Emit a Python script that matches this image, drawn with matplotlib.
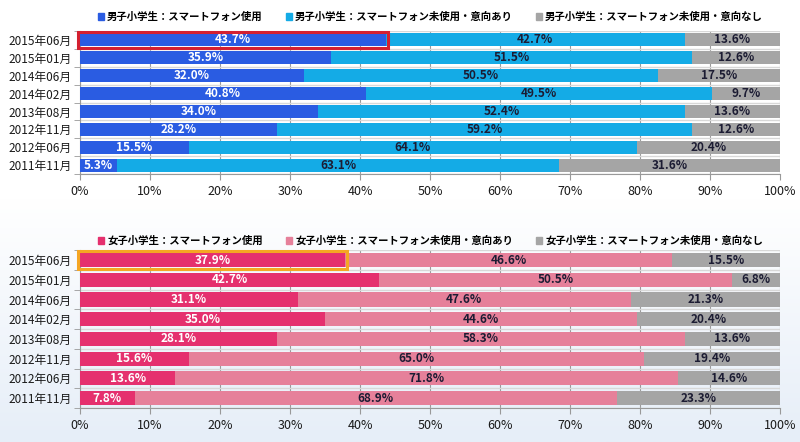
import numpy as np
import matplotlib
matplotlib.use('Agg')
import matplotlib.pyplot as plt
from matplotlib.patches import Patch, Rectangle
from matplotlib.colors import LinearSegmentedColormap

plt.rcParams['font.family'] = ['Noto Sans CJK JP', 'DejaVu Sans']

periods = ['2015年06月', '2015年01月', '2014年06月', '2014年02月',
           '2013年08月', '2012年11月', '2012年06月', '2011年11月']
pct_ticks = ['0%', '10%', '20%', '30%', '40%', '50%', '60%', '70%', '80%', '90%', '100%']

boys_names = ['男子小学生：スマートフォン使用', '男子小学生：スマートフォン未使用・意向あり',
              '男子小学生：スマートフォン未使用・意向なし']
boys_use = [43.7, 35.9, 32.0, 40.8, 34.0, 28.2, 15.5, 5.3]
boys_want = [42.7, 51.5, 50.5, 49.5, 52.4, 59.2, 64.1, 63.1]
boys_no = [13.6, 12.6, 17.5, 9.7, 13.6, 12.6, 20.4, 31.6]

girls_names = ['女子小学生：スマートフォン使用', '女子小学生：スマートフォン未使用・意向あり',
               '女子小学生：スマートフォン未使用・意向なし']
girls_use = [37.9, 42.7, 31.1, 35.0, 28.1, 15.6, 13.6, 7.8]
girls_want = [46.6, 50.5, 47.6, 44.6, 58.3, 65.0, 71.8, 68.9]
girls_no = [15.5, 6.8, 21.3, 20.4, 13.6, 19.4, 14.6, 23.3]

boys_colors = ['#2a5ce2', '#14abe6', '#a5a5a5']
girls_colors = ['#e5306e', '#e6809a', '#a5a5a5']

fig = plt.figure(figsize=(8, 4.42), dpi=100)

# soft background: white on top, pale blue lower down
bg = fig.add_axes([0, 0, 1, 1], zorder=-10)
grad = np.linspace(0, 1, 256).reshape(-1, 1)
grad = np.clip((grad - 0.45) / 0.55, 0, 1)
cm = LinearSegmentedColormap.from_list('bg', ['#ffffff', '#e6eef8'])
bg.imshow(grad, aspect='auto', cmap=cm, extent=[0, 1, 0, 1], origin='upper')
bg.axis('off')


def draw_panel(ax, names, series, colors, highlight):
    y = np.arange(len(periods))
    left = np.zeros(len(periods))
    for i, (vals, col) in enumerate(zip(series, colors)):
        vals = np.array(vals)
        ax.barh(y, vals, left=left, height=0.72, color=col, label=names[i], zorder=3)
        for yy, l, v in zip(y, left, vals):
            ax.text(l + v / 2, yy, f'{v:.1f}%', ha='center', va='center',
                    fontsize=8.5, fontweight='bold', zorder=5,
                    color='white' if i == 0 else '#1c1c33')
        left += vals
    # outline around latest "use" bar
    ax.add_patch(Rectangle((-0.3, -0.45), series[0][0] + 0.6, 0.9, fill=False,
                           edgecolor=highlight, lw=2.2, zorder=6, clip_on=False))
    ax.set_xlim(0, 100)
    ax.set_ylim(len(periods) - 0.5, -0.5)
    ax.set_yticks(y)
    ax.set_yticklabels(periods, fontsize=8.5, color='#1a1a1a')
    ax.set_xticks(np.arange(0, 101, 10))
    ax.set_xticklabels(pct_ticks, fontsize=9, color='#1a1a1a')
    ax.set_yticks(np.arange(len(periods) + 1) - 0.5, minor=True)
    ax.tick_params(axis='y', which='major', length=0, pad=6)
    ax.tick_params(axis='y', which='minor', length=4, color='#999999')
    ax.tick_params(axis='x', length=4, color='#999999', pad=4)
    ax.grid(axis='x', color='#9a9a9a', lw=0.8, zorder=1)
    ax.grid(axis='y', which='minor', color='#d8d8d8', lw=1.0, zorder=1)
    ax.set_facecolor('none')
    for s in ['top', 'right']:
        ax.spines[s].set_visible(False)
    ax.spines['left'].set_color('#999999')
    ax.spines['bottom'].set_color('#999999')


ax1 = fig.add_axes([0.1, 0.606, 0.875, 0.324])
draw_panel(ax1, boys_names, [boys_use, boys_want, boys_no], boys_colors, '#d42030')
ax2 = fig.add_axes([0.1, 0.077, 0.875, 0.357])
draw_panel(ax2, girls_names, [girls_use, girls_want, girls_no], girls_colors, '#f5a623')

for names, colors, ypos in [(boys_names, boys_colors, 0.962), (girls_names, girls_colors, 0.455)]:
    handles = [Patch(color=c, label=n) for n, c in zip(names, colors)]
    fig.legend(handles=handles, loc='center', bbox_to_anchor=(0.538, ypos), ncol=3,
               frameon=False, handlelength=0.6, handleheight=0.6,
               handletextpad=0.3, columnspacing=2.2,
               prop={'weight': 'bold', 'size': 7.5})

fig.savefig('out.png', dpi=100)
